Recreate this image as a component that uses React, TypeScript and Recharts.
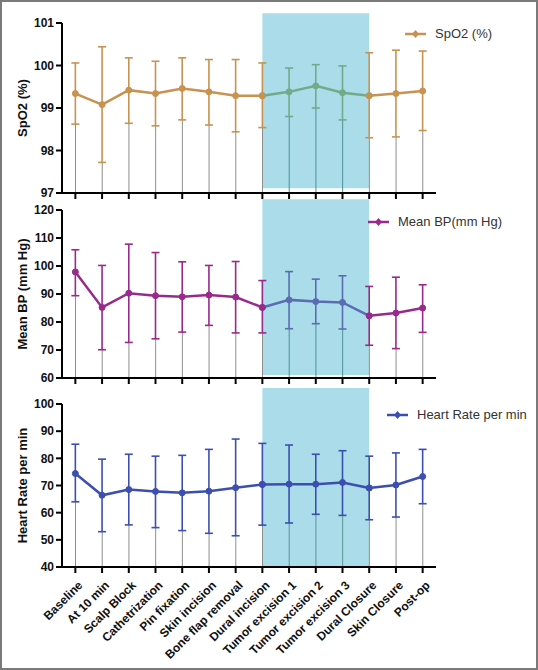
import React from "react";
import { ComposedChart, Line, Bar, Cell, XAxis, YAxis, ErrorBar, ReferenceArea, Legend } from "recharts";

const categories = [
  "Baseline", "At 10 min", "Scalp Block", "Cathetrization", "Pin fixation", "Skin incision",
  "Bone flap removal", "Dural incision", "Tumor excision 1", "Tumor excision 2", "Tumor excision 3",
  "Dural Closure", "Skin Closure", "Post-op",
];

// shaded window: Dural incision .. Dural Closure
const shadeFrom = 7;
const shadeTo = 11;

const spo2Mean = [99.34, 99.08, 99.42, 99.34, 99.46, 99.38, 99.29, 99.29, 99.38, 99.52, 99.36, 99.29, 99.34, 99.4];
const spo2High = [100.06, 100.44, 100.18, 100.1, 100.18, 100.14, 100.14, 100.06, 99.94, 100.02, 99.99, 100.3, 100.36, 100.34];
const spo2Low = [98.62, 97.72, 98.64, 98.58, 98.72, 98.6, 98.44, 98.54, 98.8, 99.0, 98.72, 98.3, 98.32, 98.47];

const bpMean = [97.9, 85.2, 90.3, 89.4, 89.0, 89.6, 88.9, 85.2, 87.9, 87.3, 87.0, 82.2, 83.2, 85.0];
const bpHigh = [105.8, 100.2, 107.8, 104.8, 101.5, 100.2, 101.6, 94.8, 98.0, 95.3, 96.5, 92.7, 96.0, 93.3];
const bpLow = [89.4, 70.1, 72.7, 74.0, 76.4, 78.8, 76.1, 76.1, 77.6, 79.4, 77.5, 71.7, 70.5, 76.3];

const hrMean = [74.4, 66.4, 68.5, 67.8, 67.3, 67.9, 69.2, 70.4, 70.5, 70.5, 71.1, 69.1, 70.2, 73.3];
const hrHigh = [85.2, 79.7, 81.5, 80.8, 81.1, 83.3, 87.1, 85.5, 84.9, 81.5, 82.8, 80.8, 82.0, 83.3];
const hrLow = [64.0, 53.0, 55.5, 54.5, 53.4, 52.4, 51.5, 55.4, 56.2, 59.4, 59.0, 57.4, 58.4, 63.3];

const spo2Ticks = [97, 98, 99, 100, 101];
const bpTicks = [60, 70, 80, 90, 100, 110, 120];
const hrTicks = [40, 50, 60, 70, 80, 90, 100];

const FONT = '"Liberation Sans", Arial, sans-serif';
const SHADE = "#aadcea";

function buildRows(mean: number[], low: number[], high: number[]) {
  return categories.map((name, i) => {
    const inside = i > shadeFrom && i < shadeTo;
    const inBand = i >= shadeFrom && i <= shadeTo;
    const err = [mean[i] - low[i], high[i] - mean[i]];
    return {
      idx: i,
      name,
      low: low[i],
      outer: inside ? null : mean[i],
      outerErr: inside ? undefined : err,
      inner: inBand ? mean[i] : null,
      innerErr: inside ? err : undefined,
    };
  });
}

const EmptyTick = () => <g />;

function SlantTick({ x, y, payload }: any) {
  return (
    <g transform={`translate(${x + 5},${y + 8}) rotate(-45)`}>
      <text x={0} y={0} dy="0.35em" textAnchor="end" fontSize={12} fontWeight="bold" fill="#111" fontFamily={FONT}>
        {categories[payload.value]}
      </text>
    </g>
  );
}

function YTitle({ viewBox, value }: any) {
  const cx = viewBox.x + 8;
  const cy = viewBox.y + viewBox.height / 2;
  return (
    <text x={cx} y={cy} transform={`rotate(-90, ${cx}, ${cy})`} textAnchor="middle" dominantBaseline="central"
      fontSize={13} fontWeight="bold" fill="#111" fontFamily={FONT}>
      {value}
    </text>
  );
}

function LegendItem({ color, text }: { color: string; text: string }) {
  return (
    <div style={{ display: "flex", alignItems: "center", fontSize: 13, color: "#333", fontFamily: FONT, whiteSpace: "nowrap" }}>
      <svg width={21} height={10}>
        <line x1={0} y1={5} x2={21} y2={5} stroke={color} strokeWidth={2.5} />
        <path d="M10.5 1 L14 5 L10.5 9 L7 5 Z" fill={color} />
      </svg>
      <span style={{ marginLeft: 9 }}>{text}</span>
    </div>
  );
}

type PanelProps = {
  top: number;
  height: number;
  marginTop: number;
  xHeight: number;
  mean: number[];
  low: number[];
  high: number[];
  ticks: number[];
  shadeY: [number, number];
  title: string;
  legend: string;
  legendPos: { left: number; top: number };
  color: string;
  innerColor: string;
  stemColor: string;
  showLabels?: boolean;
};

function Panel(p: PanelProps) {
  const rows = buildRows(p.mean, p.low, p.high);
  const axisStyle = { stroke: "#000", strokeWidth: 2 };
  return (
    <div style={{ position: "absolute", left: 0, top: p.top }}>
      <ComposedChart width={534} height={p.height} data={rows} margin={{ top: p.marginTop, right: 100, bottom: 0, left: 12 }}>
        <ReferenceArea x1={shadeFrom} x2={shadeTo} y1={p.shadeY[0]} y2={p.shadeY[1]} fill={SHADE} fillOpacity={1}
          stroke="none" ifOverflow="visible" />
        <XAxis type="number" dataKey="idx" domain={[-0.5, categories.length - 0.5]} ticks={categories.map((_, i) => i)}
          interval={0} height={p.xHeight} axisLine={axisStyle} tickLine={axisStyle} tickSize={6}
          tick={p.showLabels ? <SlantTick /> : <EmptyTick />} allowDataOverflow />
        <YAxis type="number" domain={[p.ticks[0], p.ticks[p.ticks.length - 1]]} ticks={p.ticks} interval={0} width={48}
          axisLine={axisStyle} tickLine={axisStyle} tickSize={6} allowDataOverflow
          tick={{ fontSize: 12, fontWeight: "bold", fill: "#111", fontFamily: FONT }}
          label={<YTitle value={p.title} />} />
        <Bar dataKey="low" barSize={1} isAnimationActive={false}>
          {rows.map((r, i) => (
            <Cell key={i} fill={i > shadeFrom && i < shadeTo ? p.stemColor : "#8e8e8e"} />
          ))}
        </Bar>
        <Line dataKey="inner" stroke={p.innerColor} strokeWidth={2.5} dot={{ r: 3, fill: p.innerColor, stroke: p.innerColor, strokeWidth: 1 }}
          isAnimationActive={false}>
          <ErrorBar dataKey="innerErr" direction="y" width={4} stroke={p.innerColor} strokeWidth={1.6} />
        </Line>
        <Line dataKey="outer" stroke={p.color} strokeWidth={2.5} dot={{ r: 3, fill: p.color, stroke: p.color, strokeWidth: 1 }}
          isAnimationActive={false}>
          <ErrorBar dataKey="outerErr" direction="y" width={4} stroke={p.color} strokeWidth={1.6} />
        </Line>
        <Legend layout="horizontal" verticalAlign="middle" align="center"
          wrapperStyle={{ left: p.legendPos.left, top: p.legendPos.top, width: 160 }}
          content={() => <LegendItem color={p.color} text={p.legend} />} />
      </ComposedChart>
    </div>
  );
}

export default function App() {
  return (
    <div style={{ position: "relative", width: 538, height: 670, boxSizing: "border-box", border: "2px solid #7a7a7a",
      background: "#fff", overflow: "hidden", fontFamily: FONT }}>
      <style>{"body{margin:0}"}</style>
      <Panel top={0} height={198} marginTop={21} xHeight={7} mean={spo2Mean} low={spo2Low} high={spo2High}
        ticks={spo2Ticks} shadeY={[97.11, 101.23]} title="SpO2 (%)" legend="SpO2 (%)" legendPos={{ left: 403, top: 24 }}
        color="#c89250" innerColor="#70ab8a" stemColor="#4d9098" />
      <Panel top={188} height={195} marginTop={20} xHeight={7} mean={bpMean} low={bpLow} high={bpHigh}
        ticks={bpTicks} shadeY={[61.1, 123.8]} title="Mean BP (mm Hg)" legend="Mean BP(mm Hg)" legendPos={{ left: 366, top: 24 }}
        color="#982a8c" innerColor="#5a6cb2" stemColor="#4d9098" />
      <Panel top={378} height={288} marginTop={24} xHeight={101} mean={hrMean} low={hrLow} high={hrHigh}
        ticks={hrTicks} shadeY={[40.3, 105.9]} title="Heart Rate per min" legend="Heart Rate per min" legendPos={{ left: 385, top: 27 }}
        color="#3c4fae" innerColor="#3c4fae" stemColor="#5a9595" showLabels />
    </div>
  );
}
